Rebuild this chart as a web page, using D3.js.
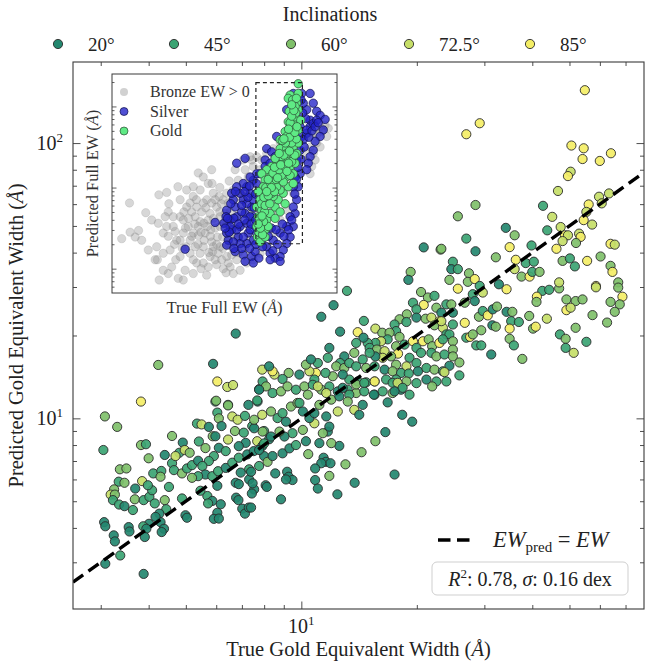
<!DOCTYPE html>
<html><head><meta charset="utf-8">
<script src="https://cdn.jsdelivr.net/npm/d3@7"></script>
<style>
body{margin:0;background:#fff}
svg{font-family:"Liberation Serif","Times New Roman",serif}
</style></head>
<body><svg id="chart" width="660" height="663"></svg>
<script>
// ---------------- DATA ----------------
const inclinations = [20, 45, 60, 72.5, 85];
const inclinationLabels = ["20°", "45°", "60°", "72.5°", "85°"];
const inclinationColors = ["#23876f", "#3ba473", "#7fc06a", "#c6de68", "#f4ee66"];

// Main panel: [log10 true gold EW, log10 predicted gold EW, inclination index]
const goldPoints = [
[.582,1.061,4],[.488,1.007,2],[.520,.969,2],[.484,.885,1],[.582,.903,2],[.595,.906,1],[.602,.855,2],[.527,.815,2],[.544,.818,2],[.524,.770,1],
[.539,.766,2],[.512,.742,2],[.503,.723,3],[.514,.723,2],[.509,.703,1],[.525,.687,1],[.539,.681,0],[.561,.667,1],[.566,.706,2],[.567,.745,0],
[.585,.772,3],[.589,.703,1],[.604,.715,1],[.611,.739,1],[.600,.757,1],[.614,.800,1],[.635,.809,1],[.633,.788,2],[.618,.691,1],[.644,.703,2],
[.655,.751,1],[.644,.867,0],[.663,.837,1],[.663,.936,2],[.691,.912,0],[.682,.875,1],[.672,.863,3],[.696,.885,3],[.709,.875,2],[.668,.812,1],
[.689,.800,2],[.702,.818,1],[.715,.830,1],[.731,.846,0],[.728,.981,1],[.740,.978,3],[.759,.969,0],[.733,.916,1],[.750,.892,2],[.769,.935,2],
[.776,1.061,1],[.781,1.021,1],[.785,1.000,2],[.809,1.049,1],[.820,1.007,3],[.834,.995,3],[.853,1.009,1],[.862,1.049,0],[.886,1.061,0],[.792,.972,0],
[.776,.935,0],[.809,.923,3],[.827,.954,2],[.850,.948,1],[.872,.972,1],[.898,1.013,3],[.903,.954,1],[.885,.917,3],[.855,.911,0],[.837,.899,0],
[.785,.893,0],[.803,.881,1],[.772,.863,1],[.759,.845,1],[.742,.827,1],[.750,.796,0],[.731,.790,1],[.715,.784,2],[.768,.790,1],[.783,.808,1],
[.803,.820,0],[.820,.839,1],[.837,.857,1],[.859,.869,0],[.876,.881,0],[.898,.899,0],[.916,.924,0],[.903,.863,0],[.890,.827,1],[.864,.815,1],
[.842,.803,0],[.829,.766,0],[.864,.778,0],[.877,.742,0],[.907,.757,0],[.837,.761,0],[.781,.755,0],[.755,.718,1],[.737,.737,1],[.768,.700,0],
[.790,.688,0],[.781,.657,0],[.772,.635,0],[.785,.636,0],[.757,.691,1],[.830,.712,0],[.836,.703,0],[.846,.672,0],[.853,.654,0],[.863,.676,0],
[.689,.709,1],[.698,.648,0],[.702,.639,0],[.648,.670,1],[.630,.654,0],[.633,.623,0],[.642,.599,0],[.636,.587,0],[.620,.642,0],[.603,.617,0],
[.588,.608,1],[.596,.599,0],[.592,.569,0],[.550,.605,0],[.552,.589,0],[.486,.623,0],[.489,.608,0],[.511,.575,0],[.514,.553,0],[.528,.502,1],
[.489,.472,0],[.589,.435,0],
[.829,1.308,0],[.627,1.194,2],[.770,1.198,0],[.781,1.134,4],[.807,1.114,3],[.822,1.121,3],[.778,1.064,2],[.809,1.047,2],[.890,1.106,0],[.885,1.065,1],[.898,1.177,3],
[1.119,1.463,1],[1.084,1.411,0],[1.052,1.369,0],[1.101,1.315,0],[1.163,1.354,1],[1.147,1.313,4],[1.193,1.326,3],[1.211,1.311,2],[1.319,1.621,0],[1.363,1.613,2],
[1.285,1.532,2],[1.279,1.503,0],[1.312,1.459,2],[1.330,1.439,2],[1.347,1.445,1],[1.291,1.420,1],[1.319,1.412,4],[1.352,1.402,2],[1.365,1.384,0],[1.378,1.414,1],
[1.300,1.396,1],[1.275,1.378,2],[1.256,1.360,2],[1.274,1.350,1],[1.300,1.366,0],[1.324,1.362,2],[1.339,1.366,3],[1.360,1.353,4],[1.347,1.338,2],[1.369,1.329,3],
[1.243,1.341,1],[1.247,1.317,1],[1.230,1.311,2],[1.256,1.296,2],[1.225,1.287,1],[1.208,1.280,3],[1.193,1.274,1],[1.173,1.274,1],[1.162,1.293,0],[1.143,1.274,1],
[1.178,1.256,1],[1.197,1.250,2],[1.217,1.244,3],[1.247,1.262,2],[1.252,1.235,4],[1.269,1.268,1],[1.291,1.280,4],[1.300,1.256,1],[1.317,1.280,4],[1.332,1.287,2],
[1.341,1.262,2],[1.360,1.274,4],[1.378,1.305,1],[1.312,1.238,1],[1.339,1.238,1],[1.352,1.225,2],[1.373,1.232,1],[1.282,1.220,1],[1.300,1.201,1],[1.274,1.189,3],
[1.247,1.195,2],[1.234,1.225,2],[1.212,1.220,3],[1.193,1.225,0],[1.178,1.238,1],[1.160,1.214,1],[1.138,1.238,2],[1.112,1.225,0],[1.101,1.201,1],[1.073,1.256,0],
[1.069,1.220,1],[1.091,1.189,2],[1.112,1.183,2],[1.125,1.201,1],[1.143,1.189,1],[1.169,1.183,2],[1.191,1.189,1],[1.217,1.177,0],[1.238,1.171,2],[1.260,1.165,1],
[1.280,1.163,1],[1.304,1.171,0],[1.326,1.183,1],[1.347,1.177,2],[1.369,1.171,1],[1.326,1.141,0],[1.352,1.134,1],[1.378,1.134,1],[1.300,1.128,1],[1.274,1.134,2],
[1.247,1.141,1],[1.221,1.141,1],[1.191,1.134,2],[1.169,1.131,1],[1.147,1.134,1],[1.125,1.141,1],[1.108,1.159,0],[1.082,1.153,2],[1.063,1.165,1],[1.038,1.165,4],
[1.034,1.141,1],[1.021,1.171,3],[1.012,1.195,2],[1.043,1.201,1],[1.025,1.214,0],[.995,1.159,0],[.967,1.165,2],[.951,1.143,1],[.930,1.159,3],[.925,1.171,4],
[.916,1.189,0],[.899,1.134,1],[.925,1.092,1],[.947,1.098,2],[.964,1.116,2],[.986,1.104,1],[1.008,1.116,2],[1.030,1.122,1],[1.052,1.104,2],[1.073,1.116,1],
[1.095,1.098,0],[1.121,1.104,1],[1.143,1.092,2],[1.164,1.098,1],[1.191,1.086,0],[1.212,1.098,1],[1.238,1.092,2],[1.260,1.104,0],[1.282,1.086,1],
[1.341,1.116,2],[1.263,1.013,0],[1.289,.988,0],[1.225,1.058,0],[1.189,1.086,0],[1.219,.950,0],[1.193,.917,2],[1.157,.877,2],[1.243,.796,0],[1.139,.766,0],
[1.115,.833,2],[1.094,.724,0],[1.073,.791,2],[1.099,.900,0],[1.078,.910,2],[1.069,.952,0],[1.056,.946,2],[1.047,.910,0],[1.058,.857,0],[1.064,.842,0],
[1.076,.837,0],[1.052,.837,0],[1.036,.818,0],[1.036,.776,0],[1.043,.745,0],[1.018,.870,2],[1.012,.917,0],[1.004,.958,2],[1.034,.982,3],[.963,.806,0],
[.967,.788,0],[.977,.776,0],[.960,.778,0],[.932,.800,0],[.910,.751,0],[.947,.706,0],[.869,.676,0],[.871,.727,0],[.873,.764,0],[.869,.806,0],
[.912,.842,2],[.925,.863,0],[.951,.873,0],[.969,.891,0],[.986,.903,1],[.977,.946,1],[.956,.934,0],[.943,.952,2],[.921,.934,0],
[.899,.952,2],[.890,.885,0],[.903,.909,1],[.877,.964,0],[.877,.995,2],[.921,1.025,2],[.938,1.001,1],[.960,.988,0],
[.951,1.019,1],[.973,1.043,2],[.990,1.056,2],[1.004,1.025,0],[1.021,1.001,0],[1.034,1.019,0],[1.047,1.049,2],[1.065,1.007,0],[1.073,.970,0],[1.095,1.025,3],
[1.078,1.068,2],[1.065,1.092,3],[1.043,1.116,3],[1.017,1.086,2],[.995,1.056,1],[.908,1.116,2],[.890,1.104,0],[1.125,1.086,1],[1.121,1.061,2],[1.138,1.031,3],
[1.151,1.013,0],[1.160,1.049,0],[1.099,1.080,0],[1.108,1.111,0],[1.143,1.123,2],[1.164,1.129,1],[1.191,1.134,4],[1.238,1.129,1],[1.251,1.129,3],[1.264,1.111,1],[1.243,1.098,0],
[1.739,2.192,4],[1.465,2.072,4],[1.430,2.032,4],[1.704,1.991,4],[1.736,1.981,4],[1.733,1.942,4],[1.778,1.935,4],[1.807,1.963,4],[1.702,1.896,3],[1.695,1.880,4],
[1.669,1.826,3],[1.776,1.805,3],[1.802,1.817,3],[1.783,1.781,3],[1.749,1.777,4],[1.743,1.750,3],[1.736,1.720,4],[1.758,1.704,3],[1.454,1.775,2],[1.408,1.734,2],
[1.630,1.772,1],[1.654,1.732,3],[1.533,1.692,0],[1.556,1.665,2],[1.430,1.653,1],[1.641,1.683,1],[1.676,1.695,3],[1.687,1.665,4],[1.695,1.665,3],[1.681,1.644,3],
[1.724,1.671,3],[1.728,1.659,4],[1.716,1.637,2],[1.806,1.634,4],[1.817,1.631,3],[1.600,1.628,1],[1.543,1.622,4],[1.665,1.616,4],[1.365,1.616,2],[1.454,1.607,0],
[1.507,1.585,2],[1.395,1.569,1],[1.391,1.542,0],[1.408,1.542,1],[1.437,1.527,2],[1.434,1.496,2],[1.386,1.503,2],[1.408,1.471,4],[1.452,1.506,4],[1.465,1.481,1],
[1.473,1.457,3],[1.447,1.451,1],[1.426,1.420,2],[1.391,1.414,2],[1.452,1.426,0],[1.365,1.353,3],[1.395,1.384,0],[1.426,1.347,4],[1.395,1.341,1],[1.386,1.305,1],
[1.369,1.287,1],[1.395,1.280,2],[1.395,1.250,2],[1.395,1.225,2],[1.386,1.191,0],[1.412,1.203,2],[1.373,1.168,3],[1.412,1.156,1],[1.430,1.293,1],[1.440,1.296,4],
[1.447,1.305,2],[1.456,1.265,1],[1.469,1.265,1],[1.469,1.320,2],[1.463,1.369,2],[1.473,1.390,1],[1.486,1.374,4],[1.499,1.396,0],[1.510,1.406,2],[1.498,1.338,0],
[1.507,1.333,2],[1.495,1.232,0],[1.535,1.469,4],[1.515,1.487,0],[1.559,1.576,4],[1.556,1.542,3],[1.585,1.564,1],[1.606,1.569,1],[1.574,1.515,2],[1.595,1.515,4],
[1.602,1.532,1],[1.621,1.532,2],[1.535,1.387,0],[1.550,1.387,2],[1.547,1.353,1],[1.567,1.350,1],[1.543,1.326,4],[1.543,1.289,2],[1.554,1.265,1],[1.576,1.216,2],
[1.594,1.372,2],[1.604,1.326,2],[1.611,1.333,4],[1.628,1.463,1],[1.614,1.442,4],[1.613,1.423,2],[1.646,1.467,1],[1.672,1.472,2],[1.672,1.494,3],[1.640,1.362,3],
[1.674,1.305,1],[1.689,1.289,2],[1.689,1.256,1],[1.710,1.238,3],[1.715,1.329,2],[1.743,1.278,1],[1.691,1.432,2],[1.715,1.426,2],[1.733,1.432,2],[1.691,1.393,4],
[1.702,1.402,3],[1.681,1.572,2],[1.700,1.581,1],[1.713,1.552,1],[1.745,1.572,4],[1.780,1.588,2],[1.806,1.554,2],[1.811,1.532,4],[1.768,1.481,4],[1.768,1.476,3],
[1.826,1.494,2],[1.826,1.475,2],[1.837,1.442,4],[1.830,1.414,2],[1.806,1.423,2],[1.817,1.387,2],[1.759,1.375,2],[1.797,1.348,2]
];

// Inset: [log10 true full EW, log10 predicted full EW]
const bronzePoints = [
[-3.89,.37],[-3.62,.45],[-3.64,.81],[-3.35,.47],[-3.12,.69],[-2.93,.60],[-2.77,.27],[-2.75,.11],[-2.70,.91],[-2.45,.94],
[-2.38,.80],[-2.40,.70],[-2.18,.46],[-2.16,.11],[-2.09,1.01],[-2.02,.64],[-1.76,.52],[-1.81,.76],[-1.60,.89],[-1.44,1.18],
[-1.28,1.13],[-1.12,1.05],[-1.01,1.22],[-2.69,-.14],[-2.40,-.06],[-2.08,-.12],[-1.86,-.02],[-1.49,.07],[-1.17,-.08],[-.90,.11],
[-.74,.27],[-.42,.02],[-.21,.11],[-.64,0],[-1.92,.44],[-1.70,.35],[-1.54,.64],[-1.44,.52],[-1.33,.70],[-1.22,.44],
[-1.12,.60],[-1.01,.33],[-.90,.50],[-.85,.76],[-.74,.64],[-.66,.39],[-.53,.56],[-.42,.70],[-.37,.27],[-.26,.44],
[-.21,.64],[-.10,.81],[0,.89],[.11,1.01],[.16,1.13],[.32,1.26],[.43,1.38],[.27,1.34],[.06,1.22],[-.16,1.09],
[-.32,.97],[-.53,.93],[-.64,.85],[-.96,.93],[-1.17,.85],[-1.38,.97],[-1.60,1.01],[-1.70,.81],[-1.92,.60],[-2.13,.35],
[-2.34,.23],[-2.56,.19],[-2.02,.15],[-1.70,.19],[-1.38,.19],[-1.06,.15],[-.80,.19],[-.53,.15],[-2.56,.44],[-2.72,.56],
[-2.24,.64],[-2.45,.52],[-2.02,.85],[-1.81,.97],[-1.54,.27],[-1.28,.27],[-.96,.27],[-1.12,.02],[-1.60,-.06],[-1.92,-.14],
[-2.29,.02],[-2.56,-.02],[-2.82,.11],[-3.04,.23],[-3.25,.35],[-3.46,.39],[-1.49,.76],[-1.06,.68],[-.32,.85],[-.10,.52],
[.11,.72],[.22,.89],[.32,1.01],[.54,1.22],[.59,1.34],[.75,1.42],[.96,1.48],[1.18,1.55],[1.39,1.57],[1.60,1.55],
[1.82,1.59],[2.03,1.63],[2.24,1.67],[2.46,1.75],[2.62,1.77],[2.72,1.73],[2.67,1.63],[2.46,1.50],[2.30,1.34],[2.19,1.26],
[2.14,1.17],[1.98,1.34],[1.82,1.22],[1.71,1.05],[1.60,.93],[1.39,.72],[1.18,.60],[.96,.44],[.75,.27],[.54,.19],
[.32,.11],[.11,.07],[-.10,-.02],[-.32,-.06],[-.48,.07],[2.24,1.42],[2.35,1.55],[2.51,1.69],[2.14,1.50],[0,1.34],
[.22,1.38],[-.26,1.22],[-1.65,.70],[-1.44,.41],[-1.26,.56],[-1.04,.48],[-.83,.39],[-.74,.52],[-.58,.68],[-.48,.39],
[-.29,.56],[-.21,.31],[-.37,.17],[-.69,.11],[-.98,.21],[-1.28,.07],[-1.60,.11],[-1.83,.27],[-2.02,.35],[-2.24,.52],
[-2.50,.64],[-1.28,.81],[-1.01,.81],[-.77,.89],[-.48,.81],[-.16,.93],[-1.38,.58],[-1.60,.44],
[-1.9,.70],[-1.75,.62],[-1.55,.55],[-1.35,.45],[-1.15,.52],[-.95,.62],[-.75,.70],[-.60,.55],[-.45,.62],[-1.85,.50],
[-1.65,.40],[-1.45,.30],[-1.25,.35],[-1.05,.40],[-.85,.30],[-.65,.25],[-.45,.30],[-.30,.40],[-1.50,.85],[-1.20,.75],
[-.90,.85],[-.70,.80],[-1.95,.25],[-2.20,.30],[-2.40,.40],[-1.10,.20],[-.85,.05],[-.55,-.05],[-1.35,0],[-.15,.20],
[.05,.25],[.20,.35],[.50,.30],[.70,.50],[.90,.70],[1.10,.85],[1.30,1.00],[1.45,1.15],[2.00,1.45],[2.35,1.65],
[-1.0,1.05],[-.75,1.00],[-.45,1.08]
];
const silverPoints = [
[-1.86,.24],[-.90,.57],[-.21,1.30],[.06,1.36],[.75,1.48],[.91,1.44],[.70,1.34],[1.07,1.63],[1.39,1.96],[1.60,2.16],
[1.87,2.16],[2.14,2.16],[2.24,2.04],[2.35,1.94],[2.46,1.89],[2.62,1.84],[2.56,1.71],[2.46,1.63],[2.30,1.57],[2.24,1.46],
[2.14,1.38],[2.08,1.30],[2.03,1.22],[2.14,1.83],[2.03,1.96],[1.92,2.04],[1.82,1.75],[-.53,.72],[-.42,.60],[-.37,.48],
[-.48,.35],[-.26,.76],[-.21,.64],[-.10,.52],[-.16,.39],[0,.85],[.06,.68],[.11,.56],[.16,.44],[.22,.93],
[.27,.76],[.32,.64],[.38,.52],[.43,.44],[.32,.35],[.11,.31],[-.10,.31],[-.32,.33],[-.53,.44],[-.62,.56],
[-.55,.64],[-.32,.85],[-.10,.93],[.11,1.01],[.32,1.09],[.54,1.17],[.70,1.26],[.86,1.30],[1.02,1.38],[1.18,1.42],
[1.34,1.46],[1.50,1.50],[1.66,1.55],[1.76,1.59],[1.87,1.63],[2.03,1.67],[2.14,1.75],[2.24,1.79],[2.35,1.83],[1.71,1.34],
[1.82,1.46],[1.92,1.59],[2.03,1.71],[1.82,1.17],[1.76,1.01],[1.71,.85],[1.66,.68],[1.60,.52],[1.50,.39],[1.39,.31],
[1.28,.23],[1.18,.15],[1.02,.13],[.86,.19],[.75,.27],[.59,.35],[.64,.48],[.54,.56],[1.18,.44],[1.39,.52],
[1.50,.64],[1.60,.76],[.96,.35],[-.53,.29],[-.26,.21],[0,.17],[.27,.15],[.32,.07],[.06,.09],[.38,.21],
[.62,.27],[.86,.11],[1.18,.09],[1.60,1.01],[1.66,1.13],[.43,1.17],[.22,1.13],[0,1.05],[-.21,1.01],[-.37,.93],
[-.42,.52],[-.21,.48],[0,.39],[.22,.48],[.11,.80],[-.05,.70],[.32,.85],[.22,.64],
[-.45,.45],[-.30,.62],[-.15,.55],[.05,.60],[.25,.55],[.40,.60],[.35,.75],[.15,.88],[-.05,.78],[-.40,.80],
[-.25,.95],[.05,.95],[.40,.92],[.42,1.05],[.20,1.02],[-.58,.50],[-.50,.62],[.40,.30],[.20,.25],[-.05,.25],
[-.30,.25],[.60,.65],[.70,.55],[.90,.50],[1.05,.48],[1.30,.40],[1.45,.48],[1.55,.60],[1.65,.92],[1.70,1.10],
[1.75,1.25],[1.85,1.35],[1.95,1.50],[2.10,1.62],[2.20,1.70],[2.00,1.85],[1.90,1.92],[1.85,2.08],[2.30,1.75],[2.40,1.80],
[1.10,.30],[.95,.22],[.50,.13],[1.25,.55],[.80,.40]
];
const goldInsetPoints = [
[1.76,2.28],[1.50,2.14],[1.44,2.10],[1.76,2.16],[1.71,2.04],[1.76,1.96],[1.66,2.00],[1.44,1.81],[1.60,1.79],[1.50,1.75],
[1.34,1.69],[1.71,1.85],[1.76,1.71],[1.60,1.63],[1.44,1.57],[1.28,1.52],[1.18,1.48],[1.39,1.48],[1.60,1.50],[1.76,1.55],
[1.71,1.42],[1.55,1.38],[1.39,1.34],[1.18,1.34],[1.07,1.30],[.91,1.26],[.75,1.22],[.59,1.17],[.70,1.09],[.86,1.13],
[1.07,1.17],[1.28,1.22],[1.50,1.26],[1.66,1.30],[1.60,1.17],[1.39,1.13],[1.18,1.09],[.96,1.03],[.80,.97],[.64,.93],
[.54,.85],[.43,.76],[.48,.64],[.43,.52],[.45,.39],[.54,.33],[.70,.48],[.75,.60],[.86,.68],[1.02,.76],
[1.12,.85],[1.28,.93],[1.44,1.01],[1.60,1.05],[1.34,.80],[1.18,.70],[1.02,.62],[.80,.52],[.70,.39],[.96,.89],
[1.18,.97],[.59,.72],[.75,.85],[.91,.93],[1.07,1.01],[1.28,1.07],[1.50,1.15],[.64,1.01],[.48,.95],[.59,.56],
[.54,.44],[1.39,1.42],[1.23,1.38],[1.02,1.36],[1.55,1.69],[1.39,1.63],[1.66,1.77],[1.18,1.59],[1.84,1.83],[1.68,1.92],
[1.58,2.08],[1.47,1.94],
[.50,.45],[.62,.42],[.65,.58],[.52,.62],[.68,.70],[.58,.80],[.70,.78],[.85,.80],[.66,.88],[.80,.90],
[1.00,.95],[.72,1.00],[.88,1.05],[1.05,1.10],[1.22,1.15],[.80,1.10],[.95,1.18],[1.15,1.22],[1.35,1.25],[1.55,1.32],
[1.00,1.25],[1.20,1.28],[1.45,1.30],[1.65,1.40],[1.30,1.40],[1.48,1.45],[1.15,1.42],[1.55,1.55],[1.70,1.60],[1.35,1.55],
[1.25,1.58],[1.48,1.62],[1.65,1.68],[1.50,1.80],[1.72,1.75],[1.55,1.88],[1.62,1.95],[1.70,2.10],[1.55,2.02],[1.45,1.72],
[1.30,1.60],[1.40,1.20],[1.10,1.12],[.90,1.00],[.75,.95],[.60,.65],[.55,.50],[.48,.55]
];
const insetLegend = ["Bronze EW > 0", "Silver", "Gold"];
const fitStats = {r2: 0.78, sigma: 0.16};

// ---------------- LAYOUT ----------------
const svg = d3.select("#chart");
const M = {left: 73, right: 644, top: 62, bottom: 609};
const x = d3.scaleLog().domain([2.54, 78.2]).range([M.left, M.right]);
const y = d3.scaleLog().domain([2.03, 197]).range([M.bottom, M.top]);
const isMajor = v => Math.abs(Math.log10(v) - Math.round(Math.log10(v))) < 1e-9;
const frameColor = "#3a3a3a";

svg.append("clipPath").attr("id","mainclip").append("rect")
  .attr("x",M.left).attr("y",M.top).attr("width",M.right-M.left).attr("height",M.bottom-M.top);

svg.append("g").attr("clip-path","url(#mainclip)")
  .selectAll("circle").data(goldPoints).join("circle")
  .attr("cx", d => x(Math.pow(10,d[0])))
  .attr("cy", d => y(Math.pow(10,d[1])))
  .attr("r", 4.6)
  .attr("fill", d => inclinationColors[d[2]])
  .attr("fill-opacity", 0.92)
  .attr("stroke", "#2a2a2a").attr("stroke-width", 0.9);

const dom = x.domain();
svg.append("path")
  .datum(dom.map(v => [v, v]))
  .attr("d", d3.line().x(d => x(d[0])).y(d => y(d[1])))
  .attr("stroke","#000").attr("stroke-width",3.4).attr("stroke-dasharray","12.5,6.5")
  .attr("fill","none").attr("clip-path","url(#mainclip)");

function axes(scale, orient, pos) {
  const all = scale.ticks();
  const minor = all.filter(v => !isMajor(v));
  const major = all.filter(isMajor);
  const mk = (vals, len) => {
    let a;
    if (orient==="bottom") a = d3.axisBottom(scale);
    if (orient==="top") a = d3.axisTop(scale);
    if (orient==="left") a = d3.axisLeft(scale);
    if (orient==="right") a = d3.axisRight(scale);
    a.tickValues(vals).tickSize(-len).tickFormat("");
    const tr = (orient==="bottom"||orient==="top") ? `translate(0,${pos})` : `translate(${pos},0)`;
    const g = svg.append("g").attr("transform", tr).call(a);
    g.select(".domain").remove();
    g.selectAll("line").attr("stroke", frameColor).attr("stroke-width", 0.9);
  };
  mk(minor, 4); mk(major, 7.5);
}
axes(x, "bottom", M.bottom); axes(x, "top", M.top);
axes(y, "left", M.left); axes(y, "right", M.right);

svg.append("rect").attr("x",M.left).attr("y",M.top).attr("width",M.right-M.left).attr("height",M.bottom-M.top)
  .attr("fill","none").attr("stroke",frameColor).attr("stroke-width",1.1);

function powLabel(sel, v) {
  sel.append("tspan").text("10");
  sel.append("tspan").attr("dy",-8).attr("font-size",13).text(Math.round(Math.log10(v)));
}
x.ticks().filter(isMajor).forEach(v => {
  const t = svg.append("text").attr("x", x(v)).attr("y", 633).attr("text-anchor","middle")
    .attr("font-size",20).attr("fill","#222");
  powLabel(t, v);
});
y.ticks().filter(isMajor).forEach(v => {
  const t = svg.append("text").attr("x", 63).attr("y", y(v)+7).attr("text-anchor","end")
    .attr("font-size",20).attr("fill","#222");
  powLabel(t, v);
});

const xt = svg.append("text").attr("x",(M.left+M.right)/2).attr("y",656).attr("text-anchor","middle")
  .attr("font-size",20.5).attr("fill","#222");
xt.append("tspan").text("True Gold Equivalent Width (");
xt.append("tspan").attr("font-style","italic").text("Å");
xt.append("tspan").text(")");
const yt = svg.append("text").attr("transform",`translate(23,${(M.top+M.bottom)/2}) rotate(-90)`)
  .attr("text-anchor","middle").attr("font-size",20.5).attr("fill","#222");
yt.append("tspan").text("Predicted Gold Equivalent Width (");
yt.append("tspan").attr("font-style","italic").text("Å");
yt.append("tspan").text(")");

svg.append("text").attr("x",330).attr("y",21).attr("text-anchor","middle").attr("font-size",20).attr("fill","#222").text("Inclinations");
const legX = [58, 174, 291, 409, 530];
inclinationLabels.forEach((lab, i) => {
  svg.append("circle").attr("cx",legX[i]).attr("cy",44).attr("r",4.6)
    .attr("fill",inclinationColors[i]).attr("stroke","#2a2a2a").attr("stroke-width",0.9);
  svg.append("text").attr("x",legX[i]+30).attr("y",51).attr("font-size",19).attr("fill","#222").text(lab);
});

svg.append("line").attr("x1",438).attr("x2",476).attr("y1",540).attr("y2",540)
  .attr("stroke","#000").attr("stroke-width",3.4).attr("stroke-dasharray","12.5,6.5");
const lt = svg.append("text").attr("x",493).attr("y",547).attr("font-size",22.5).attr("fill","#222");
lt.append("tspan").attr("font-style","italic").text("EW");
lt.append("tspan").attr("font-size",15).attr("dy",5).text("pred");
lt.append("tspan").attr("dy",-5).text(" = ");
lt.append("tspan").attr("font-style","italic").text("EW");

svg.append("rect").attr("x",432).attr("y",562).attr("width",196).attr("height",33).attr("rx",5)
  .attr("fill","#fff").attr("fill-opacity",0.8).attr("stroke","#cfcfcf").attr("stroke-width",1);
const st = svg.append("text").attr("x",530).attr("y",586).attr("text-anchor","middle").attr("font-size",20).attr("fill","#222");
st.append("tspan").attr("font-style","italic").text("R");
st.append("tspan").attr("font-size",13).attr("dy",-8).text("2");
st.append("tspan").attr("dy",8).text(`: ${fitStats.r2.toFixed(2)}, `);
st.append("tspan").attr("font-style","italic").text("σ");
st.append("tspan").text(`: ${fitStats.sigma.toFixed(2)} dex`);

// ---------------- INSET ----------------
const I = {left: 112, right: 337, top: 74, bottom: 293};
const ix = d3.scaleLinear().domain([-4.2, 3.0]).range([I.left, I.right]);
const iyLog = d3.scaleLog().domain([Math.pow(10,-0.3), Math.pow(10,2.4)]).range([I.bottom, I.top]);
const iy = v => iyLog(Math.pow(10, v));

svg.append("rect").attr("x",I.left).attr("y",I.top).attr("width",I.right-I.left).attr("height",I.bottom-I.top)
  .attr("fill","#fff");
svg.append("clipPath").attr("id","insetclip").append("rect")
  .attr("x",I.left).attr("y",I.top).attr("width",I.right-I.left).attr("height",I.bottom-I.top);
const ig = svg.append("g").attr("clip-path","url(#insetclip)");
ig.selectAll(".b").data(bronzePoints).join("circle").attr("class","b")
  .attr("cx",d=>ix(d[0])).attr("cy",d=>iy(d[1])).attr("r",4.2)
  .attr("fill","#8f8f8f").attr("fill-opacity",0.36).attr("stroke","#777").attr("stroke-opacity",0.3).attr("stroke-width",0.6);
ig.selectAll(".s").data(silverPoints).join("circle").attr("class","s")
  .attr("cx",d=>ix(d[0])).attr("cy",d=>iy(d[1])).attr("r",4.2)
  .attr("fill","#2323c8").attr("fill-opacity",0.78).attr("stroke","#10104a").attr("stroke-width",0.7);
ig.selectAll(".g").data(goldInsetPoints).join("circle").attr("class","g")
  .attr("cx",d=>ix(d[0])).attr("cy",d=>iy(d[1])).attr("r",4.2)
  .attr("fill","#5fea85").attr("stroke","#2d4a33").attr("stroke-width",0.7);

const bx0 = ix(Math.log10(x.domain()[0])), bx1 = ix(Math.log10(x.domain()[1]));
const by0 = iy(Math.log10(y.domain()[1])), by1 = iy(Math.log10(y.domain()[0]));
svg.append("rect").attr("x",bx0).attr("y",by0).attr("width",bx1-bx0).attr("height",by1-by0)
  .attr("fill","none").attr("stroke","#222").attr("stroke-width",1.2).attr("stroke-dasharray","4,3");

function insetYAxis(orient, pos) {
  const all = iyLog.ticks();
  const minor = all.filter(v => !isMajor(v)), major = all.filter(isMajor);
  [[minor,2.5],[major,4.5]].forEach(([vals,len]) => {
    const a = (orient==="left"? d3.axisLeft(iyLog) : d3.axisRight(iyLog)).tickValues(vals).tickSize(-len).tickFormat("");
    const g = svg.append("g").attr("transform",`translate(${pos},0)`).call(a);
    g.select(".domain").remove();
    g.selectAll("line").attr("stroke",frameColor).attr("stroke-width",0.8);
  });
}
insetYAxis("left", I.left); insetYAxis("right", I.right);
svg.append("rect").attr("x",I.left).attr("y",I.top).attr("width",I.right-I.left).attr("height",I.bottom-I.top)
  .attr("fill","none").attr("stroke",frameColor).attr("stroke-width",1);

const insetColors = [["#9a9a9a",0.45,"none"],["#2323c8",0.8,"#10104a"],["#5fea85",1,"#2d4a33"]];
insetLegend.forEach((lab,i) => {
  const cy = 92 + i*19.5;
  svg.append("circle").attr("cx",124).attr("cy",cy).attr("r",4)
    .attr("fill",insetColors[i][0]).attr("fill-opacity",insetColors[i][1]).attr("stroke",insetColors[i][2]).attr("stroke-width",0.7);
  svg.append("text").attr("x",150).attr("y",cy+5).attr("font-size",16).attr("fill","#333").text(lab);
});
const ixt = svg.append("text").attr("x",(I.left+I.right)/2).attr("y",313).attr("text-anchor","middle").attr("font-size",16.5).attr("fill","#333");
ixt.append("tspan").text("True Full EW (");
ixt.append("tspan").attr("font-style","italic").text("Å");
ixt.append("tspan").text(")");
const iyt = svg.append("text").attr("transform",`translate(98,${(I.top+I.bottom)/2}) rotate(-90)`).attr("text-anchor","middle").attr("font-size",16.5).attr("fill","#333");
iyt.append("tspan").text("Predicted Full EW (");
iyt.append("tspan").attr("font-style","italic").text("Å");
iyt.append("tspan").text(")");
</script></body></html>
